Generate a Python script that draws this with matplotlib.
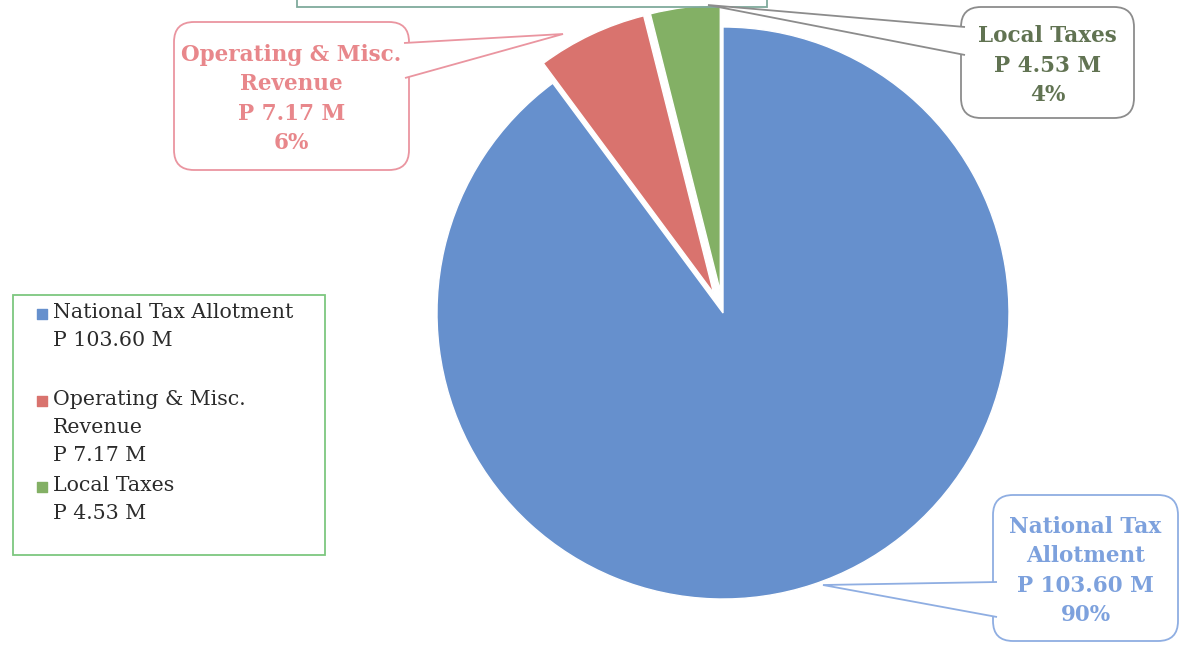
import matplotlib
matplotlib.use("Agg")
import matplotlib.pyplot as plt
from matplotlib.patches import FancyBboxPatch, Polygon, Rectangle

# revenue sources (millions of pesos)
sources = ["National Tax Allotment", "Operating & Misc.\nRevenue", "Local Taxes"]
amounts = [103.60, 7.17, 4.53]
callout_titles = ["National Tax\nAllotment", "Operating & Misc.\nRevenue", "Local Taxes"]

slice_colors = ["#6690CD", "#D9736E", "#83B065"]
text_colors = ["#7DA1DD", "#E8878B", "#617352"]
box_edges = ["#8FAEE2", "#EA95A0", "#8C8C8C"]

FONT = "DejaVu Serif"

fig = plt.figure(figsize=(11.82, 6.52), dpi=100)
ax = fig.add_axes([0, 0, 1, 1])
ax.set_aspect("equal")
ax.axis("off")

# y axis is flipped, so start at -90 and go "counterclockwise" to sweep
# clockwise from 12 o'clock on screen
wedges, _ = ax.pie(
    amounts, colors=slice_colors, startangle=-90, counterclock=True,
    center=(723, 313), radius=286, explode=[0, 22, 22],
    wedgeprops=dict(edgecolor="white", linewidth=1.0),
)
ax.set_xlim(0, 1182)
ax.set_ylim(652, 0)          # pixel-style coordinates, y grows downward

total = sum(amounts)

# callout boxes: (x0, y0, x1, y1), pointer base points, pointer tip
callouts = [
    dict(box=(993, 495, 1178, 641), base=[(997, 582), (997, 617)], tip=(823, 585)),
    dict(box=(174, 22, 409, 170), base=[(404, 43), (405, 78)], tip=(563, 34)),
    dict(box=(961, 7, 1134, 118), base=[(965, 27), (965, 55)], tip=(708, 5)),
]

for i, c in enumerate(callouts):
    x0, y0, x1, y1 = c["box"]
    box = FancyBboxPatch((x0, y0), x1 - x0, y1 - y0,
                         boxstyle="round,pad=0,rounding_size=20",
                         fc="white", ec=box_edges[i], lw=1.3, zorder=3)
    ax.add_patch(box)
    pointer = Polygon([c["base"][0], c["tip"], c["base"][1]], closed=False,
                      fc="white", ec=box_edges[i], lw=1.3, zorder=4)
    ax.add_patch(pointer)
    pct = amounts[i] / total * 100
    label = f"{callout_titles[i]}\nP {amounts[i]:.2f} M\n{pct:.0f}%"
    ax.text((x0 + x1) / 2, (y0 + y1) / 2 + 3, label, ha="center", va="center",
            family=FONT, fontweight="bold", fontsize=15.5, color=text_colors[i],
            linespacing=1.45, zorder=5)

# partially visible box along the top edge
ax.add_patch(Rectangle((297, -40), 470, 47, fc="none", ec="#7FAA9C", lw=1.3, zorder=2))

# legend panel
ax.add_patch(Rectangle((13, 295), 312, 260, fc="white", ec="#7DC77F", lw=1.3, zorder=2))
legend_rows = [314, 401, 487]
for i, name in enumerate(sources):
    y = legend_rows[i]
    ax.scatter([42], [y], marker="s", s=45, color=slice_colors[i], zorder=3)
    ax.text(53, y - 11, f"{name}\nP {amounts[i]:.2f} M", ha="left", va="top",
            family=FONT, fontsize=14.8, color="#2B2B2B", linespacing=1.6,
            zorder=3)

fig.savefig("out.png", dpi=100)
